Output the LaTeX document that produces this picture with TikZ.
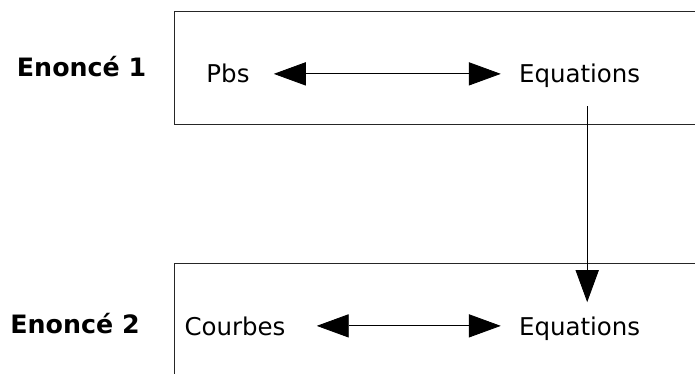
\documentclass[tikz,border=0pt]{standalone}
\usepackage{fontspec}
\setmainfont{DejaVu Sans}
\usetikzlibrary{arrows.meta}

\begin{document}
\begin{tikzpicture}[font=\fontsize{17.4}{20}\selectfont,
  >={Triangle[length=0.8cm,width=0.58cm]},
  txt/.style={anchor=base,inner sep=0pt},
  lbl/.style={anchor=base,inner sep=0pt,font=\fontsize{18}{20}\selectfont\bfseries},
  frame/.style={draw=black!85,line width=0.6pt},
  link/.style={<->,line width=0.6pt}]
\useasboundingbox (0,0) rectangle (17.375,9.35);

% Enonce 1
\draw[frame] (17.375,9.075) -- (4.35,9.075) -- (4.35,6.25) -- (17.375,6.25);
\node[lbl] (e1) at (2.04,7.425) {Enoncé 1};
\node[txt] (pbs) at (5.7,7.275) {Pbs};
\node[txt] (eq1) at (14.49,7.275) {Equations};
\draw[link,shorten <=0.6cm,shorten >=0.45cm] (pbs.east) -- (pbs.east -| eq1.west);

% Enonce 2
\draw[frame] (17.375,2.775) -- (4.35,2.775) -- (4.35,0);
\node[lbl] (e2) at (1.875,1.025) {Enoncé 2};
\node[txt] (crb) at (5.875,0.975) {Courbes};
\node[txt] (eq2) at (14.49,0.975) {Equations};
\draw[link,shorten <=0.775cm,shorten >=0.45cm] (crb.east) -- (crb.east -| eq2.west);

% passage
\draw[->,line width=0.6pt] ([xshift=0.19cm,yshift=-0.45cm]eq1.south) -- ([xshift=0.19cm,yshift=0.35cm]eq2.north);

\end{tikzpicture}
\end{document}
